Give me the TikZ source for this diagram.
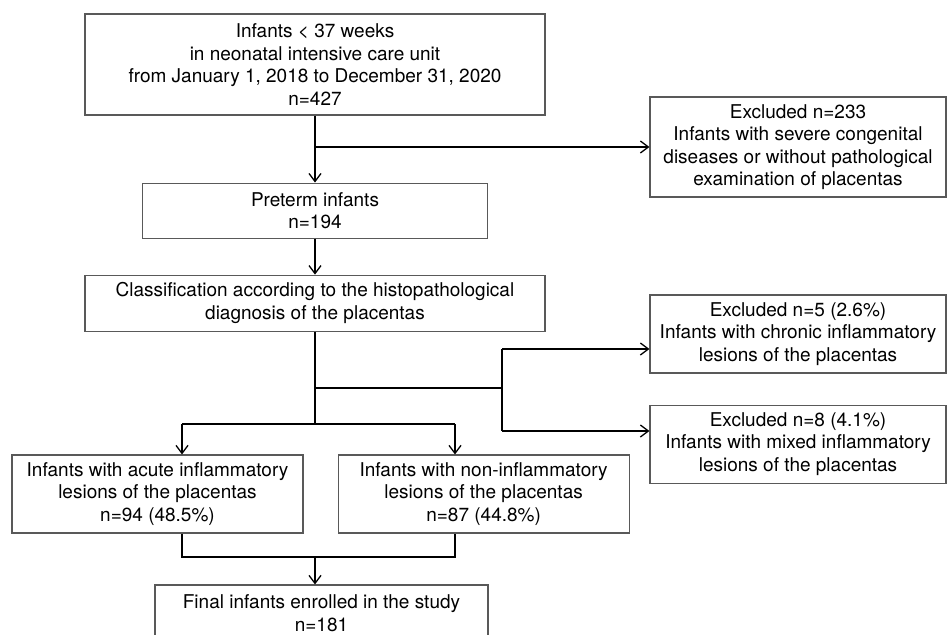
\documentclass[tikz,border=0pt]{standalone}
\usepackage{fontspec}
\setmainfont{TeX Gyre Heros}
\usetikzlibrary{positioning,arrows.meta}

\begin{document}
\begin{tikzpicture}[
    x=1pt,
    y=-1pt,
    box/.style={
        rectangle,
        draw=black!65,
        line width=1.1pt,
        align=center,
        inner sep=0pt,
        font=\fontsize{19}{22.5}\selectfont
    },
    arrow/.style={
        -{Straight Barb[length=8pt,width=12pt]},
        line width=1.3pt
    },
    line/.style={
        line width=1.3pt
    }
]

\path[use as bounding box, clip] (0,0) rectangle (952,634);

% Screening
\node[box, minimum width=460pt, minimum height=101pt] (total) at (315,64.5)
{Infants < 37 weeks\\
in neonatal intensive care unit\\
from January 1, 2018 to December 31, 2020\\
n=427};

\node[box, minimum width=345pt, minimum height=55pt, below=67pt of total] (preterm)
{Preterm infants\\
n=194};

\node[box, minimum width=460pt, minimum height=56pt, below=36pt of preterm] (classify)
{Classification according to the histopathological\\
diagnosis of the placentas};

% Exclusions
\node[box, minimum width=296pt, minimum height=100pt] (excl1) at (798,147)
{Excluded n=233\\
Infants with severe congenital\\
diseases or without pathological\\
examination of placentas};

\node[box, minimum width=296pt, minimum height=78pt] (excl2) at (798,334)
{Excluded n=5 (2.6\%)\\
Infants with chronic inflammatory\\
lesions of the placentas};

\node[box, minimum width=296pt, minimum height=78pt, below=31pt of excl2] (excl3)
{Excluded n=8 (4.1\%)\\
Infants with mixed inflammatory\\
lesions of the placentas};

% Groups
\node[box, minimum width=291pt, minimum height=78pt] (acute) at (157.5,494)
{Infants with acute inflammatory\\
lesions of the placentas\\
n=94 (48.5\%)};

\node[box, minimum width=291pt, minimum height=78pt, right=34pt of acute] (noninf)
{Infants with non-inflammatory\\
lesions of the placentas\\
n=87 (44.8\%)};

% Final
\node[box, minimum width=333pt, minimum height=56pt] (final) at (321.5,613)
{Final infants enrolled in the study\\
n=181};

% Branch points
\coordinate (cut) at (total.south |- excl1.west);
\coordinate (fork) at (315,388);
\coordinate (up) at (502,349);
\coordinate (down) at (502,431);
\coordinate (split) at (315,424);
\coordinate (sleft) at (182,424);
\coordinate (sright) at (455,424);
\coordinate (jleft) at (182,557);
\coordinate (jright) at (455,557);
\coordinate (join) at (315,557);

% Connections
\draw[arrow] (total.south) -- (total.south |- preterm.north);

\draw[arrow] (cut) -- (excl1.west);

\draw[arrow] (preterm.south) -- (preterm.south |- classify.north);

\draw[line] (classify.south) -- (split);

\draw[line] (fork) -- (fork -| up);

\draw[line] (up) -- (down);

\draw[arrow] (up) -- (up -| excl2.west);

\draw[arrow] (down) -- (down -| excl3.west);

\draw[line] (sleft) -- (sright);

\draw[arrow] (sleft) -- (sleft |- acute.north);

\draw[arrow] (sright) -- (sright |- noninf.north);

\draw[line] (jleft |- acute.south) -- (jleft) -- (jright) -- (jright |- noninf.south);

\draw[arrow] (join) -- (join |- final.north);

\end{tikzpicture}
\end{document}
